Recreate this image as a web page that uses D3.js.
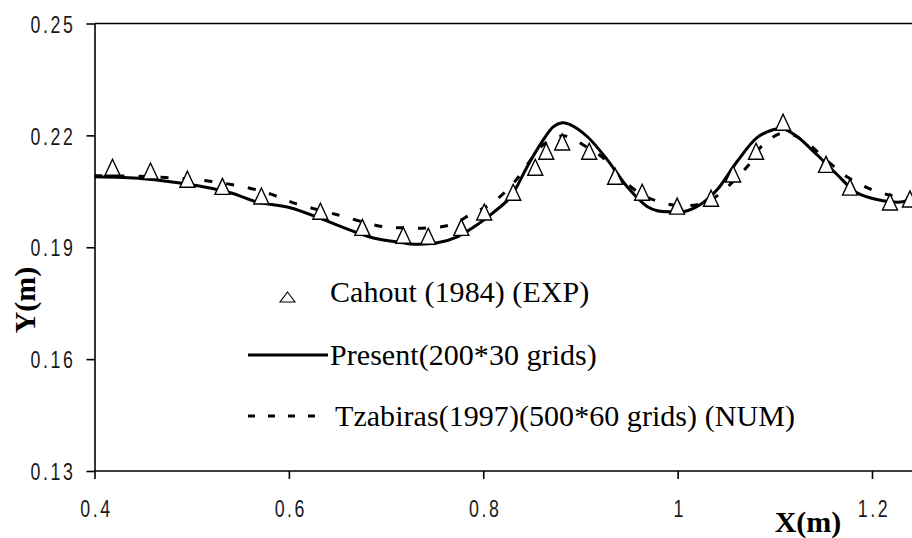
<!DOCTYPE html>
<html>
<head>
<meta charset="utf-8">
<script src="https://cdn.jsdelivr.net/npm/d3@7"></script>
<style>
  html, body { margin: 0; padding: 0; background: #fff; }
  svg { display: block; }
</style>
</head>
<body>
<svg id="chart" width="912" height="538"></svg>
<script>
// ---- data ----
const xTicks = [0.4, 0.6, 0.8, 1, 1.2];
const xTickLabels = ["0.4", "0.6", "0.8", "1", "1.2"];
const yTicks = [0.13, 0.16, 0.19, 0.22, 0.25];
const yTickLabels = ["0.13", "0.16", "0.19", "0.22", "0.25"];

// Cahout (1984) (EXP)
const expX = [0.4185,0.4576,0.4956,0.5316,0.5717,0.6324,0.6756,0.7177,0.7434,0.7774,0.8010,0.8308,0.8535,0.8648,0.8812,0.9090,0.9357,0.9635,0.9995,1.0344,1.0571,1.0807,1.1085,1.1527,1.1774,1.2185,1.2391];
const expY = [0.2113,0.2103,0.2081,0.2062,0.2036,0.1995,0.1952,0.1931,0.1928,0.1952,0.1993,0.2046,0.2113,0.2156,0.2181,0.2156,0.2089,0.2046,0.2009,0.2030,0.2095,0.2156,0.2234,0.2121,0.2060,0.2020,0.2028];

// Present (200*30 grids)
const presX = [0.4,0.450,0.4987,0.5398,0.5676,0.6015,0.6355,0.6704,0.6869,0.7177,0.7249,0.7527,0.7733,0.7969,0.8103,0.8278,0.8452,0.8586,0.8720,0.8812,0.8895,0.9069,0.9275,0.9481,0.9686,0.9789,0.9954,1.0057,1.0231,1.0406,1.0612,1.0817,1.0982,1.1085,1.1229,1.1434,1.1640,1.1846,1.2051,1.2319,1.2411];
const presY = [0.2089,0.2084,0.2068,0.2046,0.2021,0.2006,0.1974,0.1939,0.1925,0.1912,0.1909,0.1912,0.1928,0.1966,0.1993,0.2034,0.2116,0.2175,0.2223,0.2234,0.2229,0.2197,0.2135,0.2062,0.2009,0.1998,0.1995,0.1995,0.2014,0.2054,0.2130,0.2194,0.2215,0.2218,0.2197,0.2148,0.2095,0.2046,0.2028,0.2022,0.2033];

// Tzabiras (1997) (500*60 grids) (NUM)
const tzX = [0.4,0.4576,0.5121,0.5573,0.5830,0.6046,0.6499,0.6972,0.7177,0.7424,0.7661,0.7866,0.8093,0.8298,0.8452,0.8617,0.8823,0.9069,0.9254,0.9409,0.9635,0.9851,1.0077,1.0334,1.0715,1.0879,1.1095,1.1311,1.1547,1.1743,1.1949,1.2164,1.2411];
const tzY = [0.2092,0.2089,0.2079,0.2060,0.2041,0.2019,0.1987,0.1955,0.1952,0.1952,0.1960,0.1987,0.2019,0.2068,0.2121,0.2175,0.2199,0.2168,0.2135,0.2087,0.2041,0.2019,0.2011,0.2026,0.2116,0.2175,0.2207,0.2183,0.2130,0.2089,0.2060,0.2041,0.2033];

const legendLabels = ["Cahout (1984) (EXP)", "Present(200*30 grids)", "Tzabiras(1997)(500*60 grids) (NUM)"];

// ---- layout ----
const W = 912, H = 538;
const svg = d3.select("#chart");
const x = d3.scaleLinear().domain([0.4, 1.2]).range([94.5, 872]);
const y = d3.scaleLinear().domain([0.13, 0.25]).range([471, 23.5]);
const x0 = x(0.4);

const tickFont = "'Liberation Sans', Arial, sans-serif";
const serif = "'Liberation Serif', 'Times New Roman', serif";
const SX = 0.74;

// clip for plot area
svg.append("defs").append("clipPath").attr("id", "plotclip")
  .append("rect").attr("x", x0).attr("y", y(0.25)).attr("width", W - x0).attr("height", y(0.13) - y(0.25));

// top border and bottom axis line extending to the edge
svg.append("line").attr("x1", x0).attr("x2", W).attr("y1", y(0.25)).attr("y2", y(0.25))
  .attr("stroke", "#000").attr("stroke-width", 1.6);
svg.append("line").attr("x1", x0).attr("x2", W).attr("y1", y(0.13)).attr("y2", y(0.13))
  .attr("stroke", "#000").attr("stroke-width", 1.6);

// y axis
const gy = svg.append("g").attr("transform", `translate(${x0},0)`)
  .call(d3.axisLeft(y).tickValues(yTicks).tickFormat((d, i) => yTickLabels[i])
    .tickSize(8).tickSizeOuter(0).tickPadding(11));
gy.select(".domain").attr("stroke", "#000").attr("stroke-width", 1.6);
gy.selectAll(".tick line").attr("stroke", "#000").attr("stroke-width", 1.6);
gy.selectAll(".tick text")
  .style("font-family", tickFont).style("font-size", "24px").attr("fill", "#1a1a1a")
  .style("letter-spacing", "3.5px")
  .attr("dy", "0.36em")
  .attr("x", function () { return (+d3.select(this).attr("x")) / SX; })
  .attr("transform", `scale(${SX},1)`);

// x axis
const gx = svg.append("g").attr("transform", `translate(0,${y(0.13)})`)
  .call(d3.axisBottom(x).tickValues(xTicks).tickFormat((d, i) => xTickLabels[i])
    .tickSize(8).tickSizeOuter(0).tickPadding(21));
gx.select(".domain").remove();
gx.selectAll(".tick line").attr("stroke", "#000").attr("stroke-width", 1.6);
gx.selectAll(".tick text")
  .style("font-family", tickFont).style("font-size", "24px").attr("fill", "#1a1a1a")
  .style("letter-spacing", "3.5px")
  .attr("x", 2)
  .attr("transform", `scale(${SX},1)`);

// lines
const line = d3.line().x(d => x(d[0])).y(d => y(d[1])).curve(d3.curveCatmullRom.alpha(0.5));
const plot = svg.append("g").attr("clip-path", "url(#plotclip)");

plot.append("path").datum(tzX.map((v, i) => [v, tzY[i]]))
  .attr("d", line).attr("fill", "none").attr("stroke", "#000")
  .attr("stroke-width", 3).attr("stroke-dasharray", "8,14");

plot.append("path").datum(presX.map((v, i) => [v, presY[i]]))
  .attr("d", line).attr("fill", "none").attr("stroke", "#000")
  .attr("stroke-width", 3);

// triangles
const tri = "M0,-8.5L7.5,7.5L-7.5,7.5Z";
svg.append("g").selectAll("path").data(expX.map((v, i) => [v, expY[i]]))
  .join("path")
  .attr("d", tri)
  .attr("transform", d => `translate(${x(d[0])},${y(d[1])})`)
  .attr("fill", "#fff").attr("stroke", "#000").attr("stroke-width", 1.4);

// legend
const lg = svg.append("g");
lg.append("path").attr("d", "M0,-5L7.5,5L-7.5,5Z")
  .attr("transform", "translate(287.5,297)")
  .attr("fill", "#fff").attr("stroke", "#000").attr("stroke-width", 1.1);
lg.append("line").attr("x1", 248).attr("x2", 328).attr("y1", 355).attr("y2", 355)
  .attr("stroke", "#000").attr("stroke-width", 3);
lg.append("line").attr("x1", 248).attr("x2", 316).attr("y1", 416).attr("y2", 416)
  .attr("stroke", "#000").attr("stroke-width", 3).attr("stroke-dasharray", "7,13");

const legendPos = [[330, 302], [330, 365], [335, 426]];
lg.selectAll("text").data(legendLabels).join("text")
  .attr("x", (d, i) => legendPos[i][0]).attr("y", (d, i) => legendPos[i][1])
  .style("font-family", serif).style("font-size", "30px").style("letter-spacing", "0.05px")
  .attr("fill", "#000")
  .text(d => d);

// axis titles
svg.append("text").attr("x", 808).attr("y", 532).attr("text-anchor", "middle")
  .style("font-family", serif).style("font-weight", "bold").style("font-size", "30px")
  .text("X(m)");
svg.append("text").attr("transform", "translate(35,300) rotate(-90)").attr("text-anchor", "middle")
  .style("font-family", serif).style("font-weight", "bold").style("font-size", "30px")
  .text("Y(m)");
</script>
</body>
</html>
